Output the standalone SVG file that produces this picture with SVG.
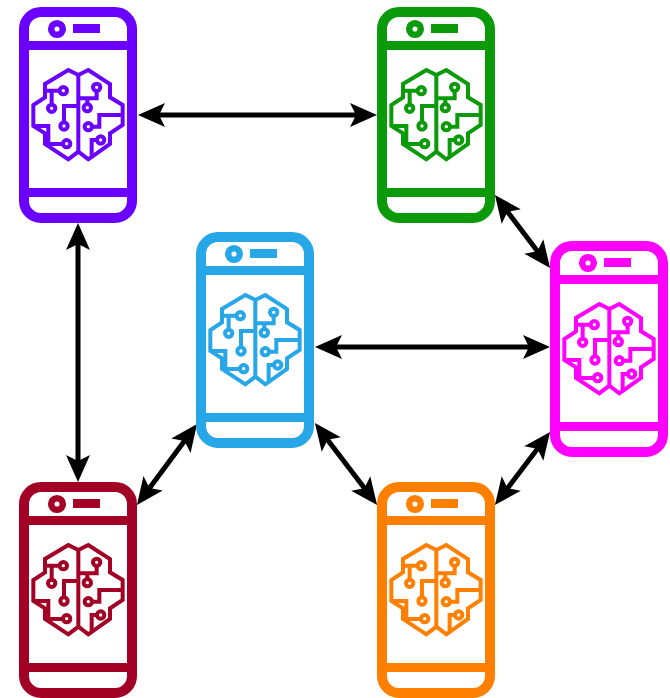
<svg xmlns="http://www.w3.org/2000/svg" xmlns:xlink="http://www.w3.org/1999/xlink" width="670" height="698" viewBox="0 0 670 698">
<style>
.body{fill:none;stroke:currentColor;stroke-width:10}
.solid{fill:currentColor;stroke:none}
.brain{fill:none;stroke:currentColor;stroke-width:12;stroke-linejoin:miter}
.link{fill:none;stroke:#000;stroke-width:5;marker-start:url(#head);marker-end:url(#head)}
</style>
<defs>
<marker id="head" markerUnits="userSpaceOnUse" markerWidth="28" markerHeight="26" viewBox="0 0 28 26" refX="9" refY="13" orient="auto-start-reverse">
<path d="M27,13 L0,1 L6,13 L0,25 Z" fill="#000"/>
</marker>
<g id="phone">
<rect class="body" x="5" y="5" width="108" height="206" rx="17"/>
<rect class="solid" x="4" y="34" width="110" height="9"/>
<rect class="solid" x="4" y="181" width="110" height="9"/>
<circle cx="38" cy="22" r="5.800" fill="none" stroke="currentColor" stroke-width="6.500"/>
<rect class="solid" x="54" y="17" width="27" height="9"/>
<g transform="translate(-9 -7) scale(.3333)">
<path class="brain" d="M205,225 L175,210 L105,252 L105,292 L70,315 L70,378 L105,400 L105,432 L175,478 L205,455 Z"/>
<path class="brain" d="M205,225 L235,210 L300,252 L300,292 L338,315 L338,375 L300,400 L300,432 L235,478 L205,455"/>
<path class="brain" d="M105,272 H150 M125,272 V315 M162,368 V318 H205 M70,378 H115 V432 H160 M260,272 V295 H205 M232,295 V313 M245,380 H268 V345 H338 M262,420 H245 V472"/>
<circle class="brain" cx="160" cy="272" r="11"/>
<circle class="brain" cx="125" cy="325" r="11"/>
<circle class="brain" cx="162" cy="378" r="11"/>
<circle class="brain" cx="170" cy="431" r="11"/>
<circle class="brain" cx="260" cy="262" r="11"/>
<circle class="brain" cx="232" cy="323" r="11"/>
<circle class="brain" cx="235" cy="380" r="11"/>
<circle class="brain" cx="272" cy="420" r="11"/>
</g>
</g>
</defs>
<rect width="670" height="698" fill="#fff"/>
<g id="connectors">
<path class="link" d="M156,115 H359"/>
<path class="link" d="M78,241 V464"/>
<path class="link" d="M505.800,209.400 L539.200,253.600"/>
<path class="link" d="M333,347 H532"/>
<path class="link" d="M186.300,438.500 L147.700,490.500"/>
<path class="link" d="M325.800,437.400 L366.200,490.600"/>
<path class="link" d="M505.800,490.600 L539.200,446.400"/>
</g>
<g id="node-purple" color="#6a00ff"><use href="#phone" x="19" y="7"/></g>
<g id="node-green" color="#0a9a0a"><use href="#phone" x="377" y="7"/></g>
<g id="node-blue" color="#27a7e7"><use href="#phone" x="196" y="232"/></g>
<g id="node-magenta" color="#ff00ff"><use href="#phone" x="550" y="241"/></g>
<g id="node-maroon" color="#a20025"><use href="#phone" x="19" y="482"/></g>
<g id="node-orange" color="#ff8000"><use href="#phone" x="377" y="482"/></g>
</svg>
